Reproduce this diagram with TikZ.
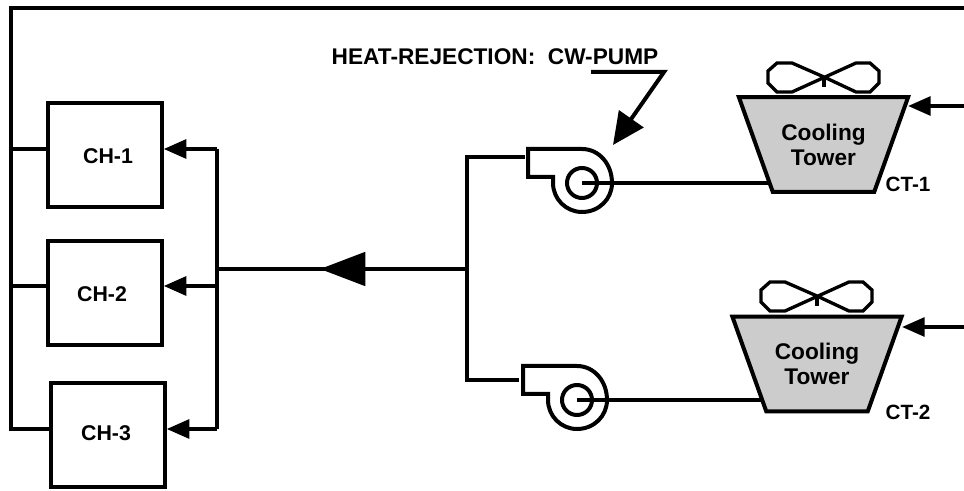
\documentclass[tikz,border=0pt]{standalone}
\usepackage{fontspec}
\setmainfont{Liberation Sans}
\usetikzlibrary{arrows.meta, shapes.geometric, backgrounds}
\definecolor{towerfill}{RGB}{204, 204, 204}
\tikzset{
  pics/volute/.style={code={
    \draw[pipe, line join=miter] (-54,-6) -- (-54,-34) -- (0,-34)
      .. controls (17,-34) and (30,-19) .. (30,0)
      .. controls (30,16) and (17,29) .. (0,29)
      .. controls (-16,29) and (-29,16) .. (-29,0)
      -- (-29,-6) -- cycle;
  }},
  pics/fan/.style={code={
    \draw[fanline] (0,0) -- (-32,-14) -- (-47,-14) -- (-56,-6) -- (-56,6) -- (-47,15) -- (-32,15)
      -- (32,-14) -- (46,-14) -- (55,-6) -- (55,6) -- (46,15) -- (32,15) -- cycle;
    \draw[fanline] (0,0) -- (0,10);
  }},
}
\begin{document}
\begin{tikzpicture}[
    x=0.75pt, y=-0.75pt,
    pipe/.style    = {line width=3pt},
    fanline/.style = {line width=2.5pt, line join=miter},
    lbl/.style     = {font=\fontsize{16}{18}\selectfont\bfseries, inner sep=0pt},
    ctlbl/.style   = {font=\fontsize{15.5}{18}\selectfont\bfseries, inner sep=0pt},
    hrlbl/.style   = {font=\fontsize{17}{20}\selectfont\bfseries, inner sep=0pt},
    chbox/.style   = {draw, line width=3pt, minimum width=85pt, minimum height=78pt, inner sep=0pt},
    tower/.style   = {draw, fill=towerfill, line width=3pt, shape=trapezium, shape border rotate=180,
                      trapezium angle=56, trapezium stretches=true, minimum width=127pt,
                      minimum height=71pt, inner sep=0pt, align=center,
                      font=\fontsize{17}{18.8}\selectfont\bfseries},
    impeller/.style= {draw, circle, line width=3pt, minimum size=22.5pt, inner sep=0pt},
    arr/.style     = {-{Triangle[length=17pt, width=14pt]}, line width=3pt},
    arrbig/.style  = {-{Triangle[length=34pt, width=25pt]}, line width=3pt},
  ]
    \useasboundingbox (0,0) rectangle (964,491);

    % ── Chillers ──
    \node[chbox] (ch1) at (105, 155) {};
    \node[chbox] (ch2) at (105, 293) {};
    \node[chbox] (ch3) at (108, 435) {};
    \node[lbl] (ch1t) at (108, 156) {CH-1};
    \node[lbl] (ch2t) at (102, 294) {CH-2};
    \node[lbl] (ch3t) at (106, 433) {CH-3};

    % ── Return rail ──
    \coordinate (topr) at (964, 8);
    \coordinate (topl) at (11, 8);
    \coordinate (ret1) at (11, 149);
    \coordinate (ret2) at (11, 286);
    \coordinate (ret3) at (11, 429);
    \draw[pipe, line join=miter] (topr) -- (topl) -- (ret3) -- (ret3 -| ch3.west);
    \draw[pipe] (ret1) -- (ret1 -| ch1.west);
    \draw[pipe] (ret2) -- (ret2 -| ch2.west);

    % ── Supply manifold ──
    \coordinate (sup1) at (217, 149);
    \coordinate (sup2) at (217, 286);
    \coordinate (sup3) at (217, 429);
    \coordinate (supm) at (217, 269);
    \coordinate (head) at (320, 269);
    \coordinate (hub)  at (467, 269);
    \draw[pipe] (sup1) -- (sup3);
    \draw[arr] (sup1) -- (sup1 -| ch1.east);
    \draw[arr] (sup2) -- (sup2 -| ch2.east);
    \draw[arr] (sup3) -- (sup3 -| ch3.east);
    \draw[pipe] (hub) -- (supm);
    \draw[arrbig] (hub) -- (head);

    % ── Pumps ──
    \node[impeller] (pu1) at (582, 183) {};
    \node[impeller] (pu2) at (577, 400) {};
    \pic at (pu1.center) {volute};
    \pic at (pu2.center) {volute};
    \coordinate (hubt) at (467, 157);
    \coordinate (hubb) at (467, 380);
    \coordinate (pu1in) at (525, 157);
    \coordinate (pu2in) at (519, 380);
    \draw[pipe, line join=miter] (pu1in) -- (hubt) -- (hubb) -- (pu2in);

    % ── Towers ──
    \node[tower] (ct1) at (823.5, 144.5) {Cooling\\Tower};
    \node[tower] (ct2) at (817, 364) {Cooling\\Tower};
    \node[ctlbl] (ct1t) at (908, 184) {CT-1};
    \node[ctlbl] (ct2t) at (908, 412) {CT-2};
    \pic at (824, 77) {fan};
    \pic at (817, 296) {fan};

    \begin{scope}[on background layer]
      \draw[pipe] (pu1.center) -- (pu1.center -| ct1.center);
      \draw[pipe] (pu2.center) -- (pu2.center -| ct2.center);
    \end{scope}

    \coordinate (ct1in) at (964, 106);
    \coordinate (ct2in) at (964, 327);
    \coordinate (ct1tip) at (908, 106);
    \coordinate (ct2tip) at (902, 327);
    \draw[arr] (ct1in) -- (ct1tip);
    \draw[arr] (ct2in) -- (ct2tip);

    % ── Leader ──
    \node[hrlbl] (hrt) at (495, 57) {HEAT-REJECTION:\ \ CW-PUMP};
    \coordinate (lda) at (591, 72);
    \coordinate (ldb) at (664, 72);
    \coordinate (ldc) at (613, 145);
    \draw[pipe, line join=miter, -{Triangle[length=24pt, width=22pt]}] (lda) -- (ldb) -- (ldc);
\end{tikzpicture}
\end{document}
